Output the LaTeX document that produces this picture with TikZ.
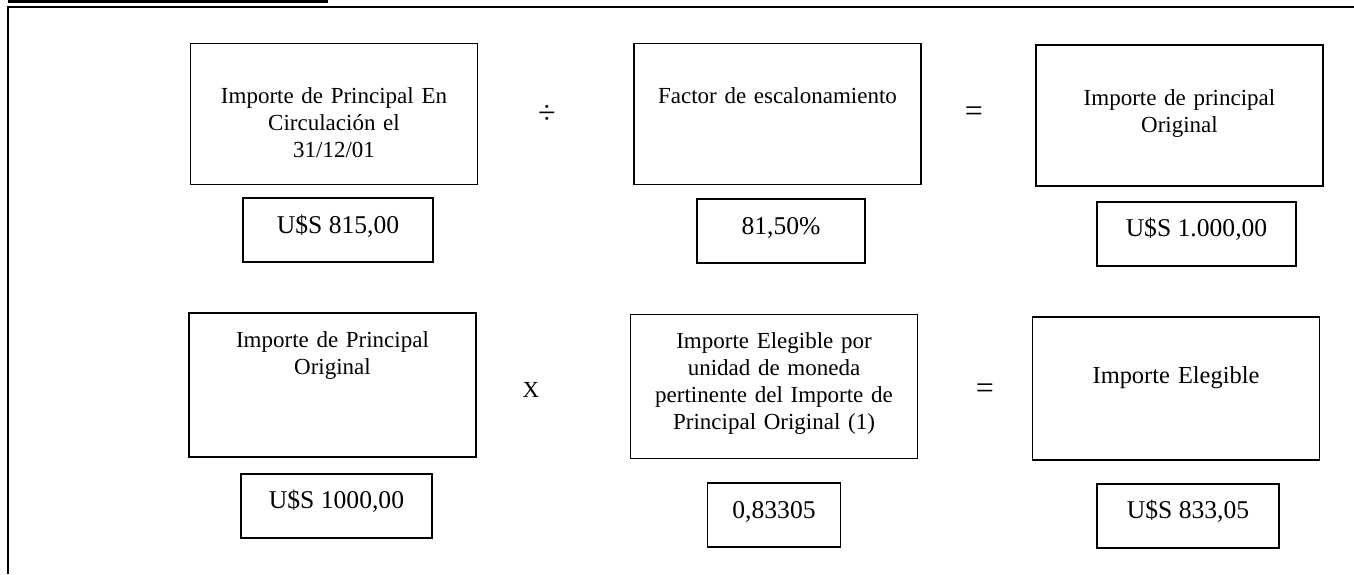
\documentclass[tikz,border=0pt]{standalone}
\usepackage{fontspec}
\setmainfont{Liberation Serif}
\usetikzlibrary{positioning}

\begin{document}
\begin{tikzpicture}[
    x=0.5pt, y=-0.5pt,
    concepto/.style={rectangle, draw, line width=0.85pt, text width=140pt, align=center, inner xsep=1.75pt, inner ysep=0pt, font=\fontsize{11.5}{13.5}\selectfont},
    fila1/.style={minimum height=70.5pt, text height=30pt, text depth=40.5pt},
    fila2/.style={minimum height=72pt, text height=17pt, text depth=55pt},
    valor/.style={rectangle, draw, line width=0.85pt, inner sep=0pt, text height=17.5pt, text depth=14.5pt, font=\fontsize{12.8}{15}\selectfont},
    operador/.style={inner sep=0pt, font=\fontsize{16}{18}\selectfont}
]
\useasboundingbox (0,0) rectangle (1354,574);

\draw[line width=1.3pt] (8,1.5) -- (328,1.5);
\draw[line width=1.1pt] (8,574) -- (8,7) -- (1354,7);

\node[concepto, fila1] (circulacion) at (334,114) {Importe de Principal En\\Circulación el\\31/12/01};
\node[concepto, fila1] (factor) at (777.5,114) {Factor de escalonamiento};
\node[concepto, fila1] (original1) at (1179.5,115.5) {Importe de principal\\Original};

\node[valor, minimum width=95pt, below=6pt of circulacion, xshift=2pt] (v815) {U\$S 815,00};
\node[valor, minimum width=84pt, below=6.5pt of factor, xshift=1.75pt] (vfactor) {81,50\%};
\node[valor, minimum width=99.5pt, below=7pt of original1, xshift=8.5pt] (v1000a) {U\$S 1.000,00};

\node[operador] (div) at (547,114.5) {÷};
\node[operador] (igual1) at (974,114) {=};

\node[concepto, fila2] (original2) at (332.5,385) {Importe de Principal\\Original};
\node[concepto, fila2] (unidad) at (774,386.5) {Importe Elegible por\\unidad de moneda\\pertinente del Importe de\\Principal Original (1)};
\node[concepto, minimum height=71.5pt, text height=33pt, text depth=38.5pt, font=\fontsize{12.2}{14}\selectfont] (elegible) at (1176,388.5) {Importe Elegible};

\node[valor, minimum width=95.5pt, below=7.5pt of original2, xshift=2pt] (v1000b) {U\$S 1000,00};
\node[valor, minimum width=66.5pt, below=11.5pt of unidad] (vunidad) {0,83305};
\node[valor, minimum width=91pt, below=11pt of elegible, xshift=6pt] (v833) {U\$S 833,05};

\node[font=\fontsize{11.5}{13.5}\selectfont, inner sep=0pt] (por) at (531,390) {X};
\node[operador] (igual2) at (985,391) {=};

\end{tikzpicture}
\end{document}
